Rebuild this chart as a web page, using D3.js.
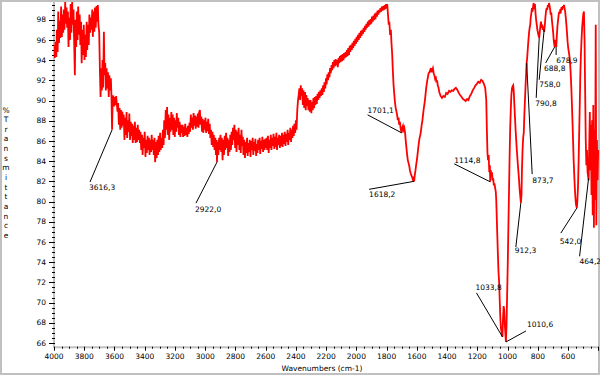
<!DOCTYPE html>
<html>
<head>
<meta charset="utf-8">
<script src="https://cdn.jsdelivr.net/npm/d3@7"></script>
<style>
body { margin: 0; background: #fff; }
svg { display: block; font-family: "DejaVu Sans", sans-serif; }
</style>
</head>
<body>
<div id="chart"></div>
<script>
// IR spectrum: [wavenumber (cm-1), %T]
var spectrum = [
[4000,95.5],[3995,94.2],[3990,95.8],[3985,94.3],[3981,97.0],[3976,94.8],[3972,98.8],[3967,95.7],[3962,97.9],[3958,96.2],
[3953,99.3],[3948,96.3],[3944,98.5],[3939,96.7],[3935,99.0],[3931,97.0],[3926,99.75],[3922,97.6],[3917,99.2],[3913,97.2],
[3908,98.8],[3904,95.3],[3899,98.2],[3894,96.0],[3890,99.55],[3885,96.7],[3880,99.75],[3876,97.5],[3871,99.0],[3867,96.0],
[3862,92.5],[3858,98.0],[3853,95.3],[3849,98.8],[3844,96.0],[3840,99.3],[3835,96.5],[3830,98.5],[3826,95.5],[3821,97.8],
[3817,93.7],[3812,97.0],[3807,94.5],[3803,97.5],[3798,94.0],[3793,96.5],[3789,94.3],[3784,97.8],[3780,95.0],[3775,97.5],
[3770,95.5],[3766,98.5],[3761,96.7],[3757,98.2],[3752,97.0],[3747,99.0],[3743,96.3],[3738,98.8],[3733,96.8],[3729,99.2],
[3724,97.2],[3719,99.35],[3715,97.8],[3710,99.45],[3706,97.5],[3701,96.7],[3696,92.7],[3692,90.35],[3687,93.2],[3683,91.0],
[3679,94.0],[3675,91.3],[3670,96.8],[3666,92.5],[3661,93.7],[3657,91.0],[3652,93.2],[3648,91.2],[3643,92.8],[3638,90.35],
[3634,92.5],[3629,91.0],[3624,92.2],[3620,90.5],[3616,87.1],[3612,90.05],[3608,90.5],[3603,89.4],[3599,90.35],[3594,89.55],
[3589,90.45],[3585,89.75],[3580,88.9],[3576,89.75],[3571,87.6],[3566,89.25],[3562,87.1],[3557,89.05],[3553,87.3],[3548,88.9],
[3543,87.5],[3539,88.6],[3534,86.1],[3530,88.3],[3525,86.6],[3520,88.85],[3516,86.3],[3511,88.05],[3506,86.9],[3502,88.7],
[3497,86.1],[3492,87.9],[3488,86.5],[3483,87.7],[3479,85.8],[3474,87.5],[3469,86.1],[3465,87.9],[3460,85.8],[3455,87.3],
[3451,85.9],[3446,87.6],[3442,86.1],[3437,87.1],[3432,85.8],[3428,86.9],[3423,85.1],[3418,86.6],[3414,84.6],[3409,86.3],
[3405,85.3],[3400,86.9],[3395,84.4],[3391,86.1],[3386,84.8],[3381,86.5],[3377,85.1],[3372,86.3],[3368,84.6],[3363,86.1],
[3358,84.9],[3354,86.6],[3349,85.1],[3345,86.1],[3340,84.6],[3335,86.3],[3331,83.9],[3326,85.9],[3321,84.3],[3317,86.1],
[3312,84.6],[3308,86.5],[3303,84.9],[3298,86.8],[3294,85.1],[3289,86.3],[3284,85.3],[3280,87.1],[3275,85.6],[3271,88.05],
[3266,86.3],[3261,89.05],[3257,87.1],[3252,89.35],[3248,86.6],[3243,88.6],[3238,86.1],[3234,88.3],[3229,86.9],[3224,88.85],
[3220,87.1],[3215,88.6],[3211,86.6],[3206,88.3],[3201,86.4],[3197,88.05],[3192,86.9],[3188,88.75],[3183,87.3],[3178,88.3],
[3174,86.6],[3169,87.9],[3164,86.4],[3160,87.6],[3155,86.8],[3150,87.6],[3146,86.4],[3141,87.4],[3137,86.5],[3132,87.7],
[3127,86.6],[3123,87.3],[3118,86.4],[3114,87.5],[3109,86.7],[3104,87.8],[3100,86.9],[3095,88.6],[3090,87.3],[3086,88.3],
[3081,87.1],[3077,88.75],[3072,87.5],[3067,88.5],[3063,87.2],[3058,88.4],[3054,87.4],[3049,88.7],[3044,87.3],[3040,88.85],
[3035,89.05],[3031,87.6],[3026,88.4],[3021,86.9],[3017,88.2],[3012,86.8],[3008,88.05],[3003,87.1],[2998,88.3],[2994,86.8],
[2989,87.9],[2985,86.95],[2980,88.2],[2975,86.7],[2970,87.7],[2966,86.3],[2961,87.1],[2957,85.6],[2952,86.9],[2947,85.4],
[2943,86.6],[2938,85.1],[2933,86.3],[2929,84.6],[2924,86.1],[2922,83.9],[2918,85.9],[2913,84.6],[2908,86.3],[2904,85.1],
[2899,86.6],[2894,84.9],[2890,86.3],[2885,84.1],[2881,86.1],[2876,84.6],[2871,86.5],[2867,85.1],[2862,86.8],[2857,85.3],
[2853,86.3],[2848,84.5],[2844,86.1],[2839,84.9],[2834,86.6],[2830,85.1],[2825,86.9],[2821,85.6],[2816,87.3],[2811,86.1],
[2807,87.6],[2802,85.3],[2797,87.1],[2793,84.9],[2788,86.9],[2784,85.6],[2779,87.3],[2774,85.1],[2770,86.6],[2765,84.8],
[2760,87.1],[2756,85.5],[2751,86.4],[2747,84.6],[2742,86.1],[2737,84.3],[2733,85.9],[2728,84.8],[2723,86.3],[2719,84.5],
[2714,85.8],[2710,84.9],[2705,86.1],[2700,84.4],[2696,86.0],[2691,85.1],[2686,86.3],[2682,84.6],[2677,85.9],[2672,85.0],
[2668,86.2],[2663,84.5],[2659,85.7],[2654,84.8],[2650,86.1],[2645,85.1],[2640,86.3],[2636,84.7],[2631,86.0],[2626,85.2],
[2622,86.4],[2617,84.9],[2613,86.1],[2608,85.1],[2603,86.2],[2599,85.3],[2594,86.3],[2590,85.1],[2585,86.5],[2580,84.8],
[2576,86.1],[2571,85.3],[2566,86.6],[2562,85.1],[2557,86.3],[2553,85.5],[2548,86.7],[2543,85.2],[2539,86.4],[2534,85.4],
[2529,86.8],[2525,85.1],[2520,86.3],[2516,85.6],[2511,86.6],[2506,85.3],[2502,86.5],[2497,85.5],[2492,86.8],[2488,85.4],
[2483,86.6],[2479,85.7],[2474,86.9],[2469,85.5],[2465,86.7],[2460,85.9],[2455,87.1],[2451,85.6],[2446,86.8],[2442,86.1],
[2437,87.3],[2432,85.9],[2428,87.1],[2423,86.3],[2419,87.5],[2414,86.5],[2410,87.7],[2405,86.8],[2400,88.05],[2396,87.1],
[2391,89.05],[2386,90.05],[2382,90.5],[2377,91.2],[2372,90.05],[2368,91.5],[2363,90.45],[2359,91.2],[2354,89.55],[2350,91.0],
[2345,89.25],[2340,90.85],[2335,89.05],[2331,90.55],[2326,89.45],[2322,90.25],[2317,89.05],[2312,90.05],[2308,88.9],[2303,90.05],
[2298,88.75],[2294,89.85],[2289,89.05],[2284,90.25],[2280,89.25],[2275,90.35],[2271,89.55],[2266,90.45],[2262,89.65],[2257,90.65],
[2252,90.05],[2248,90.85],[2243,90.25],[2238,91.0],[2234,90.45],[2229,91.2],[2225,90.55],[2220,91.5],[2215,90.85],[2211,91.8],
[2206,91.2],[2201,92.2],[2197,91.6],[2192,92.6],[2187,92.0],[2183,92.8],[2178,92.3],[2174,93.2],[2169,92.7],[2164,93.5],
[2160,93.0],[2155,93.8],[2151,93.2],[2146,94.0],[2141,93.4],[2137,94.1],[2132,93.5],[2128,94.0],[2123,93.3],[2118,94.2],
[2114,93.7],[2109,94.4],[2105,93.8],[2100,94.5],[2095,93.9],[2091,94.6],[2086,94.0],[2081,94.7],[2077,94.2],[2072,94.8],
[2067,94.3],[2063,95.0],[2058,94.4],[2054,95.2],[2049,94.5],[2044,95.4],[2040,94.8],[2035,95.5],[2030,95.0],[2026,95.7],
[2021,95.2],[2017,95.9],[2012,95.4],[2007,96.1],[2003,95.6],[1998,96.3],[1994,95.8],[1989,96.5],[1984,96.0],[1980,96.7],
[1975,96.2],[1970,96.9],[1966,96.4],[1961,97.0],[1957,96.6],[1952,97.2],[1947,96.8],[1943,97.4],[1938,97.0],[1934,97.6],
[1929,97.2],[1924,97.8],[1920,97.3],[1915,97.95],[1910,97.5],[1906,98.05],[1901,97.6],[1897,98.3],[1892,97.8],[1887,98.4],
[1883,97.95],[1878,98.6],[1874,98.05],[1869,98.7],[1864,98.3],[1860,98.9],[1855,98.5],[1850,98.96],[1846,98.7],[1841,99.15],
[1836,98.8],[1832,99.3],[1827,98.9],[1823,99.35],[1818,98.96],[1813,99.45],[1809,99.05],[1804,99.55],[1800,99.15],[1796,99.55],
[1791,98.5],[1786,97.5],[1782,97.8],[1777,96.5],[1772,97.0],[1768,95.7],[1763,94.5],[1759,93.0],[1754,91.5],[1749,90.55],
[1745,89.85],[1740,89.25],[1735,88.9],[1731,88.6],[1726,88.05],[1721,88.3],[1717,87.6],[1712,87.9],[1708,87.3],[1701,86.8],
[1697,87.3],[1692,87.5],[1688,87.1],[1683,87.3],[1678,86.8],[1674,86.1],[1669,85.3],[1664,84.6],[1660,84.1],[1655,83.8],
[1650,83.5],[1646,83.1],[1641,82.8],[1637,82.6],[1632,82.45],[1627,82.2],[1623,82.3],[1618,82.0],[1614,82.6],[1609,83.1],
[1605,83.6],[1600,84.1],[1596,84.6],[1591,85.3],[1586,85.9],[1582,86.3],[1577,86.6],[1572,87.1],[1568,87.6],[1563,88.05],
[1558,88.75],[1554,89.25],[1549,89.75],[1545,90.25],[1540,91.0],[1536,91.5],[1531,92.0],[1526,92.4],[1522,92.7],[1517,92.8],
[1512,93.0],[1508,92.8],[1503,93.2],[1499,93.0],[1494,93.2],[1489,92.7],[1484,92.5],[1480,92.2],[1475,92.4],[1471,91.8],
[1466,92.0],[1462,91.5],[1457,91.3],[1452,90.85],[1443,90.45],[1434,90.25],[1425,90.45],[1415,90.35],[1406,90.75],[1397,90.65],
[1387,90.95],[1378,90.85],[1369,91.0],[1360,90.95],[1351,91.15],[1342,91.25],[1332,91.05],[1323,90.75],[1314,90.55],[1304,90.35],
[1295,90.15],[1286,90.05],[1277,89.95],[1268,90.15],[1259,90.05],[1249,90.45],[1240,90.65],[1231,91.0],[1221,91.25],[1212,91.5],
[1203,91.65],[1194,91.85],[1184,91.75],[1175,92.05],[1166,91.95],[1157,91.65],[1148,91.25],[1141,90.05],[1137,87.1],[1133,84.8],
[1129,84.1],[1125,84.6],[1121,82.9],[1117,83.6],[1115,81.95],[1111,83.1],[1107,82.5],[1103,82.9],[1099,82.1],[1095,82.3],
[1091,81.6],[1087,81.8],[1082,81.3],[1078,80.95],[1075,80.15],[1072,78.65],[1068,76.7],[1064,74.7],[1060,73.0],[1056,72.05],
[1052,70.25],[1048,68.5],[1044,67.5],[1040,67.1],[1034,66.6],[1030,68.5],[1026,69.65],[1022,69.25],[1018,67.75],[1011,66.1],
[1007,67.75],[1003,70.75],[999,73.7],[995,77.2],[991,80.65],[987,84.1],[983,87.1],[979,89.05],[975,90.55],[971,91.2],
[967,91.4],[963,91.5],[959,90.85],[955,89.55],[951,88.3],[947,87.1],[943,86.1],[939,85.1],[935,84.3],[932,83.6],
[928,82.9],[924,82.1],[920,81.15],[912,79.85],[908,80.65],[905,83.1],[901,85.1],[897,86.3],[893,86.8],[889,88.6],
[885,90.05],[881,91.5],[874,93.7],[870,94.3],[866,95.2],[862,96.0],[858,96.7],[854,97.2],[850,97.5],[847,98.2],
[843,98.6],[839,99.15],[835,98.8],[831,99.35],[827,99.65],[823,99.05],[819,99.55],[815,98.6],[811,97.95],[807,97.5],
[803,97.0],[799,96.7],[795,96.4],[791,96.2],[787,96.8],[783,97.4],[779,97.8],[775,97.2],[771,97.5],[767,97.0],
[763,97.3],[758,96.8],[754,97.4],[750,98.2],[746,98.8],[742,99.15],[738,98.96],[734,99.45],[730,99.25],[726,99.65],
[722,99.35],[718,98.96],[715,98.5],[711,98.7],[707,97.95],[703,97.4],[699,96.8],[695,96.0],[689,95.3],[685,96.0],
[681,95.8],[678,95.3],[674,96.5],[670,97.4],[666,97.95],[662,98.5],[658,98.8],[654,98.6],[651,99.05],[647,98.9],
[643,99.25],[639,98.96],[635,99.35],[631,99.15],[627,99.45],[623,99.15],[619,98.8],[615,98.2],[611,97.5],[607,96.7],
[603,95.8],[599,95.2],[595,94.8],[591,94.4],[587,93.8],[583,92.8],[579,91.5],[575,89.85],[571,88.05],[567,86.1],
[563,84.1],[559,82.6],[555,81.3],[552,80.5],[548,79.75],[542,79.35],[538,80.15],[534,81.6],[530,84.1],[526,87.1],
[522,90.05],[519,92.5],[515,94.5],[511,96.0],[507,97.2],[503,97.95],[499,98.6],[495,98.8],[491,96.0],[487,91.0],
[483,86.1],[479,83.6],[475,85.1],[471,82.9],[464,82.1],[460,85.6],[456,88.85],[452,83.1],[449,87.6],[445,80.65],
[441,88.05],[437,78.65],[433,89.55],[429,77.4],[425,87.1],[421,80.15],[417,97.5],[413,77.65],[409,86.1],[405,82.1],
[401,85.1]
];

// picked peaks
var peakWn   = [3616.3, 2922.0, 1701.1, 1618.2, 1114.8, 1033.8, 1010.6, 912.3, 873.7, 790.8, 758.0, 688.8, 678.9, 542.0, 464.2];
var peakT    = [87.08, 83.9, 86.8, 82.0, 81.95, 66.6, 66.1, 79.85, 93.7, 96.2, 97.0, 95.3, 95.3, 79.35, 82.3];
var peakText = ["3616,3", "2922,0", "1701,1", "1618,2", "1114,8", "1033,8", "1010,6", "912,3", "873,7", "790,8", "758,0", "688,8", "678,9", "542,0", "464,2"];
// leader line end and label position, relative to the peak (px)
var peakOffsets = [
  [-22, 52, -23, 60], [-21, 41, -22, 50], [-34, -18, -34, -20], [-45, 8, -45, 16],
  [-36, -18, -36, -18.5], [-26, -44, -27, -47], [20, -11, 21, -15], [-5, 44, -6, 50],
  [5.5, 111, 5.5, 120], [-3, 60, -4, 68], [-5, 50, -5, 57], [-9, 16, -10.6, 24.5],
  [0, 8, 0, 16.5], [-16, 25, -17, 36], [-9, 78, -9, 86]
];

var xTickLabels = [4000, 3800, 3600, 3400, 3200, 3000, 2800, 2600, 2400, 2200, 2000, 1800, 1600, 1400, 1200, 1000, 800, 600];
var yTickLabels = [66, 68, 70, 72, 74, 76, 78, 80, 82, 84, 86, 88, 90, 92, 94, 96, 98];

var W = 600, H = 375;
var plot = {left: 54, right: 598.3, top: 2, bottom: 346.7};

var svg = d3.select("#chart").append("svg")
  .attr("width", W)
  .attr("height", H);

var x = d3.scaleLinear().domain([4000, 400]).range([plot.left, plot.right]);
var y = d3.scaleLinear().domain([65.63, 99.75]).range([plot.bottom, plot.top]);

// window frame
svg.append("rect")
  .attr("x", 1).attr("y", 1)
  .attr("width", W - 2).attr("height", H - 2)
  .attr("fill", "none")
  .attr("stroke", "#c0c0c0")
  .attr("stroke-width", 2);

svg.append("clipPath").attr("id", "clip")
  .append("rect")
  .attr("x", plot.left).attr("y", plot.top)
  .attr("width", W - plot.left).attr("height", plot.bottom - plot.top);

// axes lines
svg.append("line")
  .attr("x1", plot.left).attr("x2", W)
  .attr("y1", plot.bottom + 0.5).attr("y2", plot.bottom + 0.5)
  .attr("stroke", "#c0c0c0").attr("stroke-width", 2);
svg.append("line")
  .attr("x1", plot.left).attr("x2", plot.left)
  .attr("y1", plot.top).attr("y2", plot.bottom + 1)
  .attr("stroke", "#c0c0c0").attr("stroke-width", 2);

// x ticks
var xMinor = d3.range(4000, 399, -50);
svg.append("g").selectAll("line")
  .data(xMinor)
  .enter().append("line")
  .attr("x1", function(d) { return Math.round(x(d)) + 0.5; })
  .attr("x2", function(d) { return Math.round(x(d)) + 0.5; })
  .attr("y1", plot.bottom)
  .attr("y2", function(d) { return d % 200 == 0 ? plot.bottom + 4 : plot.bottom + 2; })
  .attr("stroke", "#000");

svg.append("g").selectAll("text")
  .data(xTickLabels)
  .enter().append("text")
  .attr("x", function(d) { return x(d); })
  .attr("y", 358.5)
  .attr("text-anchor", "middle")
  .style("font-size", "7.5px")
  .text(function(d) { return d; });

// y ticks
var yMinor = d3.range(66, 99.6, 0.5);
svg.append("g").selectAll("line")
  .data(yMinor)
  .enter().append("line")
  .attr("x1", function(d) { return d % 2 == 0 ? plot.left - 5 : plot.left - 2; })
  .attr("x2", plot.left + 1)
  .attr("y1", function(d) { return Math.round(y(d)) + 0.5; })
  .attr("y2", function(d) { return Math.round(y(d)) + 0.5; })
  .attr("stroke", "#000");

svg.append("g").selectAll("text")
  .data(yTickLabels)
  .enter().append("text")
  .attr("x", 46)
  .attr("y", function(d) { return y(d); })
  .attr("dy", "0.36em")
  .attr("text-anchor", "end")
  .style("font-size", "7.5px")
  .text(function(d) { return d; });

// axis titles
svg.append("text")
  .attr("x", 322)
  .attr("y", 371)
  .attr("text-anchor", "middle")
  .style("font-size", "7.5px")
  .text("Wavenumbers (cm-1)");

var yTitle = "%Transmittance".split("");
svg.append("g").selectAll("text")
  .data(yTitle)
  .enter().append("text")
  .attr("x", 6)
  .attr("y", function(d, i) { return 112.5 + i * 9.65; })
  .attr("text-anchor", "middle")
  .style("font-size", "7.5px")
  .text(function(d) { return d; });

// the spectrum
svg.append("path")
  .datum(spectrum)
  .attr("clip-path", "url(#clip)")
  .attr("fill", "none")
  .attr("stroke", "#ff0000")
  .attr("stroke-width", 1.8)
  .attr("stroke-linejoin", "miter")
  .attr("d", d3.line()
    .x(function(d) { return x(d[0]); })
    .y(function(d) { return y(d[1]); })
  );

// peak labels with leader lines
var peaks = svg.append("g");
peakWn.forEach(function(w, i) {
  var px = x(w), py = y(peakT[i]), o = peakOffsets[i];
  peaks.append("line")
    .attr("x1", px).attr("y1", py)
    .attr("x2", px + o[0]).attr("y2", py + o[1])
    .attr("stroke", "#000")
    .attr("stroke-width", 1);
  peaks.append("text")
    .attr("x", px + o[2])
    .attr("y", py + o[3])
    .style("font-size", "7.5px")
    .text(peakText[i]);
});
</script>
</body>
</html>
